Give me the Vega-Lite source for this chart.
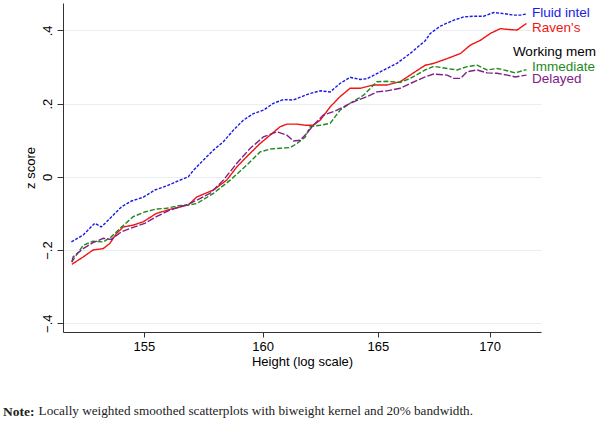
{
  "$schema": "https://vega.github.io/schema/vega-lite/v6.json",
  "width": 478,
  "height": 329,
  "autosize": {"type": "none"},
  "padding": {"left": 63, "top": 3, "right": 59, "bottom": 91},
  "background": "white",
  "config": {"view": {"stroke": null}, "font": "Liberation Sans"},
  "title": {
    "text": "Note:",
    "subtitle": "\u200b\u2003\u2003\u2002\u2009Locally weighted smoothed scatterplots with biweight kernel and 20% bandwidth.",
    "orient": "bottom",
    "anchor": "start",
    "frame": "group",
    "font": "Liberation Serif",
    "fontSize": 13.5,
    "fontWeight": "bold",
    "color": "#222222",
    "subtitleFont": "Liberation Serif",
    "subtitleFontSize": 13.2,
    "subtitleColor": "#222222",
    "subtitlePadding": -13.5,
    "dx": -60,
    "offset": 37
  },
  "datasets": {
    "curves": [
      {"s": "Fluid intel", "h": 152.03, "z": -0.178},
      {"s": "Fluid intel", "h": 152.51, "z": -0.159},
      {"s": "Fluid intel", "h": 152.98, "z": -0.127},
      {"s": "Fluid intel", "h": 153.25, "z": -0.137},
      {"s": "Fluid intel", "h": 153.60, "z": -0.114},
      {"s": "Fluid intel", "h": 154.08, "z": -0.082},
      {"s": "Fluid intel", "h": 154.49, "z": -0.066},
      {"s": "Fluid intel", "h": 154.97, "z": -0.056},
      {"s": "Fluid intel", "h": 155.46, "z": -0.036},
      {"s": "Fluid intel", "h": 155.94, "z": -0.025},
      {"s": "Fluid intel", "h": 156.43, "z": -0.011},
      {"s": "Fluid intel", "h": 156.85, "z": 0.000},
      {"s": "Fluid intel", "h": 157.07, "z": 0.018},
      {"s": "Fluid intel", "h": 157.49, "z": 0.046},
      {"s": "Fluid intel", "h": 157.91, "z": 0.073},
      {"s": "Fluid intel", "h": 158.33, "z": 0.096},
      {"s": "Fluid intel", "h": 158.76, "z": 0.128},
      {"s": "Fluid intel", "h": 159.18, "z": 0.155},
      {"s": "Fluid intel", "h": 159.61, "z": 0.173},
      {"s": "Fluid intel", "h": 160.03, "z": 0.182},
      {"s": "Fluid intel", "h": 160.46, "z": 0.201},
      {"s": "Fluid intel", "h": 160.89, "z": 0.211},
      {"s": "Fluid intel", "h": 161.32, "z": 0.210},
      {"s": "Fluid intel", "h": 161.83, "z": 0.223},
      {"s": "Fluid intel", "h": 162.04, "z": 0.228},
      {"s": "Fluid intel", "h": 162.48, "z": 0.235},
      {"s": "Fluid intel", "h": 162.91, "z": 0.232},
      {"s": "Fluid intel", "h": 163.34, "z": 0.255},
      {"s": "Fluid intel", "h": 163.78, "z": 0.272},
      {"s": "Fluid intel", "h": 164.22, "z": 0.266},
      {"s": "Fluid intel", "h": 164.52, "z": 0.268},
      {"s": "Fluid intel", "h": 165.11, "z": 0.287},
      {"s": "Fluid intel", "h": 165.84, "z": 0.310},
      {"s": "Fluid intel", "h": 166.43, "z": 0.337},
      {"s": "Fluid intel", "h": 167.10, "z": 0.372},
      {"s": "Fluid intel", "h": 167.33, "z": 0.392},
      {"s": "Fluid intel", "h": 167.78, "z": 0.412},
      {"s": "Fluid intel", "h": 168.38, "z": 0.428},
      {"s": "Fluid intel", "h": 168.83, "z": 0.437},
      {"s": "Fluid intel", "h": 169.28, "z": 0.439},
      {"s": "Fluid intel", "h": 169.73, "z": 0.439},
      {"s": "Fluid intel", "h": 170.19, "z": 0.449},
      {"s": "Fluid intel", "h": 170.64, "z": 0.446},
      {"s": "Fluid intel", "h": 171.10, "z": 0.442},
      {"s": "Fluid intel", "h": 171.40, "z": 0.442},
      {"s": "Fluid intel", "h": 171.68, "z": 0.445},

      {"s": "Raven's", "h": 152.05, "z": -0.239},
      {"s": "Raven's", "h": 152.51, "z": -0.219},
      {"s": "Raven's", "h": 152.91, "z": -0.200},
      {"s": "Raven's", "h": 153.33, "z": -0.196},
      {"s": "Raven's", "h": 153.60, "z": -0.182},
      {"s": "Raven's", "h": 153.87, "z": -0.155},
      {"s": "Raven's", "h": 154.15, "z": -0.137},
      {"s": "Raven's", "h": 154.56, "z": -0.132},
      {"s": "Raven's", "h": 154.97, "z": -0.123},
      {"s": "Raven's", "h": 155.52, "z": -0.100},
      {"s": "Raven's", "h": 156.08, "z": -0.089},
      {"s": "Raven's", "h": 156.85, "z": -0.077},
      {"s": "Raven's", "h": 157.21, "z": -0.055},
      {"s": "Raven's", "h": 157.91, "z": -0.036},
      {"s": "Raven's", "h": 158.47, "z": -0.009},
      {"s": "Raven's", "h": 158.90, "z": 0.027},
      {"s": "Raven's", "h": 159.32, "z": 0.055},
      {"s": "Raven's", "h": 159.89, "z": 0.091},
      {"s": "Raven's", "h": 160.32, "z": 0.114},
      {"s": "Raven's", "h": 160.75, "z": 0.137},
      {"s": "Raven's", "h": 161.04, "z": 0.144},
      {"s": "Raven's", "h": 161.47, "z": 0.144},
      {"s": "Raven's", "h": 161.83, "z": 0.141},
      {"s": "Raven's", "h": 162.18, "z": 0.141},
      {"s": "Raven's", "h": 162.48, "z": 0.155},
      {"s": "Raven's", "h": 162.91, "z": 0.191},
      {"s": "Raven's", "h": 163.34, "z": 0.219},
      {"s": "Raven's", "h": 163.78, "z": 0.242},
      {"s": "Raven's", "h": 164.22, "z": 0.242},
      {"s": "Raven's", "h": 164.81, "z": 0.251},
      {"s": "Raven's", "h": 165.40, "z": 0.251},
      {"s": "Raven's", "h": 165.99, "z": 0.260},
      {"s": "Raven's", "h": 166.43, "z": 0.278},
      {"s": "Raven's", "h": 167.10, "z": 0.305},
      {"s": "Raven's", "h": 167.48, "z": 0.310},
      {"s": "Raven's", "h": 168.08, "z": 0.323},
      {"s": "Raven's", "h": 168.68, "z": 0.337},
      {"s": "Raven's", "h": 169.13, "z": 0.360},
      {"s": "Raven's", "h": 169.58, "z": 0.373},
      {"s": "Raven's", "h": 170.04, "z": 0.392},
      {"s": "Raven's", "h": 170.49, "z": 0.405},
      {"s": "Raven's", "h": 170.80, "z": 0.403},
      {"s": "Raven's", "h": 171.25, "z": 0.401},
      {"s": "Raven's", "h": 171.68, "z": 0.419},

      {"s": "Immediate", "h": 152.05, "z": -0.232},
      {"s": "Immediate", "h": 152.51, "z": -0.187},
      {"s": "Immediate", "h": 152.91, "z": -0.176},
      {"s": "Immediate", "h": 153.33, "z": -0.178},
      {"s": "Immediate", "h": 153.66, "z": -0.164},
      {"s": "Immediate", "h": 154.08, "z": -0.137},
      {"s": "Immediate", "h": 154.56, "z": -0.109},
      {"s": "Immediate", "h": 155.04, "z": -0.096},
      {"s": "Immediate", "h": 155.52, "z": -0.088},
      {"s": "Immediate", "h": 155.94, "z": -0.086},
      {"s": "Immediate", "h": 156.43, "z": -0.079},
      {"s": "Immediate", "h": 156.85, "z": -0.077},
      {"s": "Immediate", "h": 157.21, "z": -0.073},
      {"s": "Immediate", "h": 157.91, "z": -0.045},
      {"s": "Immediate", "h": 158.62, "z": -0.009},
      {"s": "Immediate", "h": 159.32, "z": 0.032},
      {"s": "Immediate", "h": 159.89, "z": 0.068},
      {"s": "Immediate", "h": 160.32, "z": 0.076},
      {"s": "Immediate", "h": 160.75, "z": 0.078},
      {"s": "Immediate", "h": 161.18, "z": 0.080},
      {"s": "Immediate", "h": 161.47, "z": 0.091},
      {"s": "Immediate", "h": 161.83, "z": 0.109},
      {"s": "Immediate", "h": 162.04, "z": 0.137},
      {"s": "Immediate", "h": 162.48, "z": 0.141},
      {"s": "Immediate", "h": 162.91, "z": 0.146},
      {"s": "Immediate", "h": 163.34, "z": 0.182},
      {"s": "Immediate", "h": 163.78, "z": 0.201},
      {"s": "Immediate", "h": 164.37, "z": 0.223},
      {"s": "Immediate", "h": 164.96, "z": 0.260},
      {"s": "Immediate", "h": 165.40, "z": 0.261},
      {"s": "Immediate", "h": 165.99, "z": 0.258},
      {"s": "Immediate", "h": 166.43, "z": 0.269},
      {"s": "Immediate", "h": 167.10, "z": 0.292},
      {"s": "Immediate", "h": 167.48, "z": 0.302},
      {"s": "Immediate", "h": 168.08, "z": 0.296},
      {"s": "Immediate", "h": 168.53, "z": 0.292},
      {"s": "Immediate", "h": 168.98, "z": 0.301},
      {"s": "Immediate", "h": 169.43, "z": 0.305},
      {"s": "Immediate", "h": 169.89, "z": 0.292},
      {"s": "Immediate", "h": 170.34, "z": 0.296},
      {"s": "Immediate", "h": 170.80, "z": 0.290},
      {"s": "Immediate", "h": 171.17, "z": 0.284},
      {"s": "Immediate", "h": 171.68, "z": 0.293},

      {"s": "Delayed", "h": 152.05, "z": -0.233},
      {"s": "Delayed", "h": 152.10, "z": -0.219},
      {"s": "Delayed", "h": 152.51, "z": -0.196},
      {"s": "Delayed", "h": 152.91, "z": -0.180},
      {"s": "Delayed", "h": 153.33, "z": -0.168},
      {"s": "Delayed", "h": 153.66, "z": -0.171},
      {"s": "Delayed", "h": 154.08, "z": -0.150},
      {"s": "Delayed", "h": 154.56, "z": -0.138},
      {"s": "Delayed", "h": 155.04, "z": -0.127},
      {"s": "Delayed", "h": 155.52, "z": -0.109},
      {"s": "Delayed", "h": 156.08, "z": -0.091},
      {"s": "Delayed", "h": 156.85, "z": -0.075},
      {"s": "Delayed", "h": 157.21, "z": -0.064},
      {"s": "Delayed", "h": 157.77, "z": -0.045},
      {"s": "Delayed", "h": 158.33, "z": -0.009},
      {"s": "Delayed", "h": 158.90, "z": 0.037},
      {"s": "Delayed", "h": 159.47, "z": 0.078},
      {"s": "Delayed", "h": 160.03, "z": 0.109},
      {"s": "Delayed", "h": 160.61, "z": 0.123},
      {"s": "Delayed", "h": 161.04, "z": 0.114},
      {"s": "Delayed", "h": 161.32, "z": 0.098},
      {"s": "Delayed", "h": 161.61, "z": 0.100},
      {"s": "Delayed", "h": 161.83, "z": 0.114},
      {"s": "Delayed", "h": 162.18, "z": 0.141},
      {"s": "Delayed", "h": 162.62, "z": 0.169},
      {"s": "Delayed", "h": 163.05, "z": 0.178},
      {"s": "Delayed", "h": 163.49, "z": 0.191},
      {"s": "Delayed", "h": 163.93, "z": 0.205},
      {"s": "Delayed", "h": 164.52, "z": 0.219},
      {"s": "Delayed", "h": 164.96, "z": 0.232},
      {"s": "Delayed", "h": 165.40, "z": 0.235},
      {"s": "Delayed", "h": 165.99, "z": 0.242},
      {"s": "Delayed", "h": 166.43, "z": 0.255},
      {"s": "Delayed", "h": 167.10, "z": 0.273},
      {"s": "Delayed", "h": 167.48, "z": 0.281},
      {"s": "Delayed", "h": 168.08, "z": 0.278},
      {"s": "Delayed", "h": 168.38, "z": 0.269},
      {"s": "Delayed", "h": 168.68, "z": 0.269},
      {"s": "Delayed", "h": 168.98, "z": 0.287},
      {"s": "Delayed", "h": 169.43, "z": 0.292},
      {"s": "Delayed", "h": 169.89, "z": 0.284},
      {"s": "Delayed", "h": 170.34, "z": 0.283},
      {"s": "Delayed", "h": 170.80, "z": 0.278},
      {"s": "Delayed", "h": 171.17, "z": 0.273},
      {"s": "Delayed", "h": 171.68, "z": 0.278}
    ],
    "labels": [
      {"s": "Fluid intel", "h": 171.94, "z": 0.449},
      {"s": "Raven's", "h": 171.94, "z": 0.408},
      {"s": "Working mem", "h": 171.06, "z": 0.342},
      {"s": "Immediate", "h": 171.94, "z": 0.299},
      {"s": "Delayed", "h": 171.94, "z": 0.266}
    ]
  },
  "layer": [
    {
      "data": {"name": "curves"},
      "mark": {"type": "line", "strokeWidth": 1.4, "clip": true},
      "encoding": {
        "x": {
          "field": "h",
          "type": "quantitative",
          "scale": {"type": "log", "domain": [151.69, 172.35], "nice": false, "zero": false},
          "axis": {
            "values": [155, 160, 165, 170],
            "format": "d",
            "title": "Height (log scale)",
            "titleFont": "Liberation Sans",
            "titleFontSize": 13,
            "titleFontWeight": "normal",
            "titleColor": "#000000",
            "titlePadding": 2,
            "labelFont": "Liberation Sans",
            "labelFontSize": 13,
            "labelColor": "#000000",
            "labelPadding": 3,
            "tickSize": 5,
            "tickColor": "#333333",
            "domainColor": "#333333",
            "grid": false
          }
        },
        "y": {
          "field": "z",
          "type": "quantitative",
          "scale": {"domain": [-0.424, 0.475], "nice": false, "zero": false},
          "axis": {
            "values": [-0.4, -0.2, 0, 0.2, 0.4],
            "labelExpr": "datum.value == 0 ? '0' : replace(format(datum.value, '.1f'), '0.', '.')",
            "labelAngle": -90,
            "title": "z score",
            "titleFont": "Liberation Sans",
            "titleFontSize": 13,
            "titleFontWeight": "normal",
            "titleColor": "#000000",
            "labelFont": "Liberation Sans",
            "labelFontSize": 13,
            "labelColor": "#000000",
            "labelPadding": 3,
            "tickSize": 6,
            "tickColor": "#333333",
            "domainColor": "#333333",
            "grid": true,
            "gridColor": "#e8eff1",
            "gridWidth": 1.2
          }
        },
        "color": {
          "field": "s",
          "type": "nominal",
          "scale": {
            "domain": ["Fluid intel", "Raven's", "Immediate", "Delayed", "Working mem"],
            "range": ["#1a1ae6", "#f01414", "#1e8a1e", "#80208a", "#000000"]
          },
          "legend": null
        },
        "strokeDash": {
          "field": "s",
          "type": "nominal",
          "scale": {
            "domain": ["Fluid intel", "Raven's", "Immediate", "Delayed"],
            "range": [[3, 1.5], [1, 0], [5, 2], [7, 2]]
          },
          "legend": null
        }
      }
    },
    {
      "data": {"name": "labels"},
      "mark": {"type": "text", "align": "left", "baseline": "middle", "fontSize": 13.5, "font": "Liberation Sans", "clip": false},
      "encoding": {
        "x": {"field": "h", "type": "quantitative"},
        "y": {"field": "z", "type": "quantitative"},
        "text": {"field": "s"},
        "color": {"field": "s", "type": "nominal", "legend": null}
      }
    }
  ]
}
